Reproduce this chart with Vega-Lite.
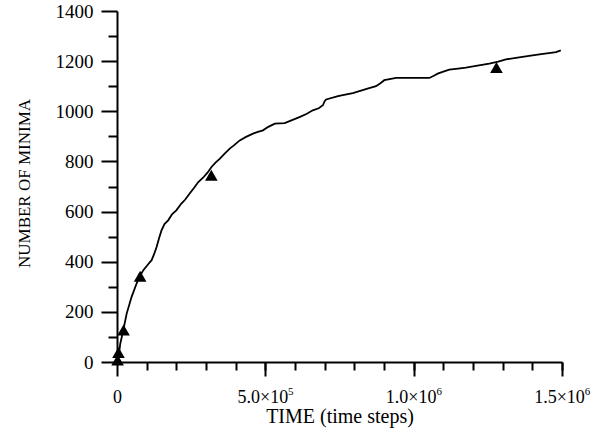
{
  "$schema": "https://vega.github.io/schema/vega-lite/v6.json",
  "autosize": {"type": "none"},
  "padding": {"left": 117, "top": 11, "right": 44, "bottom": 70},
  "width": 445,
  "height": 351,
  "background": "white",
  "config": {
    "view": {"stroke": null},
    "axis": {
      "domainColor": "black",
      "domainWidth": 2,
      "tickColor": "black",
      "tickWidth": 2,
      "grid": false,
      "labelFont": "Liberation Serif",
      "labelFontSize": 18,
      "labelColor": "black",
      "titleFont": "Liberation Serif",
      "titleFontSize": 18,
      "titleFontWeight": "normal",
      "titleColor": "black"
    }
  },
  "datasets": {
    "curve": [
      {"t": 0, "v": 0}, {"t": 3000, "v": 15}, {"t": 8000, "v": 45}, {"t": 11000, "v": 73},
      {"t": 20000, "v": 120}, {"t": 32600, "v": 193}, {"t": 49000, "v": 259}, {"t": 66000, "v": 313},
      {"t": 78000, "v": 345}, {"t": 88700, "v": 366}, {"t": 105000, "v": 390}, {"t": 116700, "v": 406},
      {"t": 125000, "v": 430}, {"t": 133500, "v": 459}, {"t": 142000, "v": 495}, {"t": 150000, "v": 525},
      {"t": 160000, "v": 550}, {"t": 172500, "v": 565}, {"t": 186000, "v": 590}, {"t": 200000, "v": 605},
      {"t": 217000, "v": 632}, {"t": 230000, "v": 648}, {"t": 245000, "v": 672}, {"t": 260000, "v": 695},
      {"t": 274000, "v": 718}, {"t": 290000, "v": 735}, {"t": 305000, "v": 755}, {"t": 318500, "v": 778},
      {"t": 332000, "v": 795}, {"t": 347000, "v": 811}, {"t": 362000, "v": 830}, {"t": 380000, "v": 851},
      {"t": 395000, "v": 865}, {"t": 413700, "v": 884}, {"t": 435000, "v": 898}, {"t": 458500, "v": 911},
      {"t": 475000, "v": 918}, {"t": 492000, "v": 924}, {"t": 510000, "v": 938}, {"t": 532000, "v": 951},
      {"t": 565000, "v": 953}, {"t": 590000, "v": 965}, {"t": 615000, "v": 977}, {"t": 640000, "v": 990},
      {"t": 660000, "v": 1004}, {"t": 680000, "v": 1012}, {"t": 694000, "v": 1024}, {"t": 700000, "v": 1040},
      {"t": 705000, "v": 1047}, {"t": 745000, "v": 1060}, {"t": 761000, "v": 1064}, {"t": 795000, "v": 1072},
      {"t": 828000, "v": 1084}, {"t": 850000, "v": 1092}, {"t": 873000, "v": 1100}, {"t": 888000, "v": 1112},
      {"t": 901000, "v": 1124}, {"t": 941000, "v": 1133}, {"t": 1053000, "v": 1133}, {"t": 1068000, "v": 1142},
      {"t": 1081000, "v": 1150}, {"t": 1100000, "v": 1158}, {"t": 1120000, "v": 1166}, {"t": 1150000, "v": 1170},
      {"t": 1176000, "v": 1174}, {"t": 1215000, "v": 1182}, {"t": 1255000, "v": 1190}, {"t": 1285000, "v": 1198},
      {"t": 1311000, "v": 1207}, {"t": 1350000, "v": 1214}, {"t": 1389000, "v": 1221}, {"t": 1430000, "v": 1228},
      {"t": 1462000, "v": 1233}, {"t": 1480000, "v": 1236}, {"t": 1496000, "v": 1243}
    ],
    "markers": [
      {"t": 2000, "v": 8}, {"t": 5000, "v": 38}, {"t": 22000, "v": 128},
      {"t": 78000, "v": 342}, {"t": 318000, "v": 745}, {"t": 1279000, "v": 1175}
    ]
  },
  "layer": [
    {
      "data": {"name": "curve"},
      "mark": {"type": "line", "color": "black", "strokeWidth": 1.8, "interpolate": "linear"},
      "encoding": {
        "x": {
          "field": "t", "type": "quantitative",
          "scale": {"domain": [0, 1500000], "nice": false, "zero": false},
          "axis": {
            "orient": "bottom",
            "values": [0, 500000, 1000000, 1500000],
            "labelExpr": "datum.value == 0 ? '0' : datum.value == 500000 ? '5.0×10' : datum.value == 1000000 ? '1.0×10' : '1.5×10'",
            "tickSize": 14,
            "labelPadding": 26,
            "labelBaseline": "alphabetic",
            "labelOffset": {"condition": {"test": "datum.value == 0", "value": 0}, "value": -3},
            "labelFlush": false,
            "labelOverlap": false,
            "title": "TIME (time steps)",
            "titleFontSize": 20,
            "titleY": 60,
            "titleBaseline": "alphabetic"
          }
        },
        "y": {
          "field": "v", "type": "quantitative",
          "scale": {"domain": [0, 1400], "nice": false},
          "axis": {
            "orient": "left",
            "values": [0, 200, 400, 600, 800, 1000, 1200, 1400],
            "format": "d",
            "tickSize": 16,
            "labelPadding": 8,
            "labelFontSize": 19,
            "labelFlush": false,
            "labelOverlap": false,
            "title": "NUMBER OF MINIMA",
            "titleFontSize": 17,
            "titleX": -84,
            "titleY": 172,
            "titleBaseline": "bottom"
          }
        }
      }
    },
    {
      "data": {"name": "markers"},
      "mark": {"type": "point", "shape": "triangle-up", "filled": true, "color": "black", "opacity": 1, "size": 160},
      "encoding": {
        "x": {
          "field": "t", "type": "quantitative",
          "axis": {
            "orient": "bottom",
            "values": [100000, 200000, 300000, 400000, 500000, 600000, 700000, 800000, 900000, 1000000, 1100000, 1200000, 1300000, 1400000, 1500000],
            "tickSize": 8,
            "labelExpr": "datum.value == 500000 ? '5' : (datum.value == 1000000 || datum.value == 1500000) ? '6' : ''",
            "labelFontSize": 11,
            "labelPadding": 24,
            "labelBaseline": "alphabetic",
            "labelOffset": 25,
            "labelFlush": false,
            "labelOverlap": false,
            "domain": false,
            "title": null
          }
        },
        "y": {
          "field": "v", "type": "quantitative",
          "axis": {
            "orient": "left",
            "values": [100, 300, 500, 700, 900, 1100, 1300],
            "tickSize": 9,
            "labels": false,
            "domain": false,
            "title": null
          }
        }
      }
    }
  ],
  "resolve": {"axis": {"x": "independent", "y": "independent"}}
}
